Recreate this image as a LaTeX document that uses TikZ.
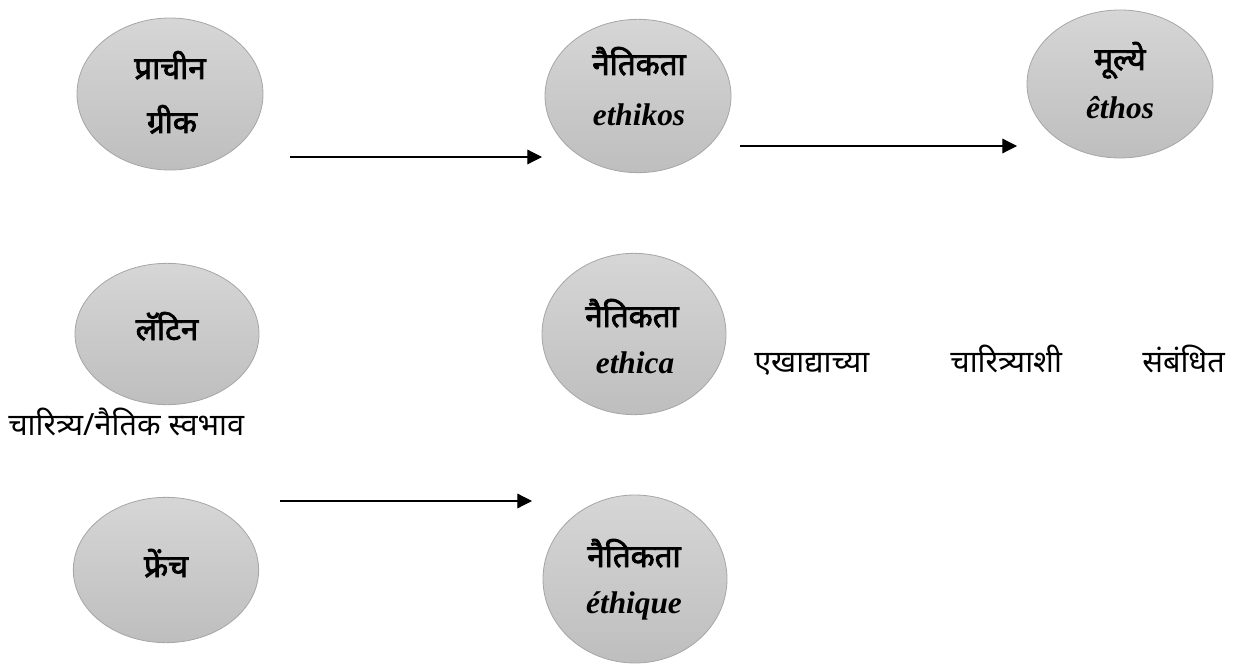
\documentclass[tikz,border=0pt]{standalone}
\usepackage{fontspec}
\setmainfont{Liberation Serif}
\newfontfamily\deva[Script=Devanagari]{Noto Sans}
\newfontfamily\devabold[Script=Devanagari,FakeBold=2.5]{Noto Sans}
\usetikzlibrary{shapes.geometric,arrows.meta}
\definecolor{bubbletop}{HTML}{D6D6D6}
\definecolor{bubblebot}{HTML}{BEBEBE}
\definecolor{bubbleedge}{HTML}{A6A6A6}
\begin{document}
\begin{tikzpicture}[x=0.75pt,y=-0.75pt,
  bubble/.style={ellipse, draw=bubbleedge, line width=0.6pt,
    top color=bubbletop, bottom color=bubblebot, inner sep=0pt},
  devhead/.style={anchor=base, inner sep=0pt, font=\devabold\fontsize{23.5}{27}\selectfont},
  latinword/.style={anchor=base, inner sep=0pt, font=\bfseries\itshape\fontsize{23.5}{27}\selectfont},
  plainword/.style={anchor=base west, inner sep=0pt, font=\deva\fontsize{23}{27}\selectfont},
  flow/.style={line width=0.9pt, -{Triangle[length=11pt,width=11pt]}}]
\useasboundingbox (0,0) rectangle (1245,670);

% ellipses
\node[bubble, minimum width=139.5pt, minimum height=114pt] (greek)  at (170,94)  {};
\node[bubble, minimum width=139.5pt, minimum height=115pt] (ethikos) at (638,96) {};
\node[bubble, minimum width=139.5pt, minimum height=111pt] (ethos)  at (1120,84) {};
\node[bubble, minimum width=138pt,   minimum height=106pt] (latin)  at (167,334) {};
\node[bubble, minimum width=138pt,   minimum height=121pt] (ethica) at (634,334) {};
\node[bubble, minimum width=139pt,   minimum height=109pt] (french) at (166,570) {};
\node[bubble, minimum width=138pt,   minimum height=126pt] (ethique) at (635,579) {};

% labels inside the ellipses
\node[devhead] (greek1) at (170,79)  {प्राचीन};
\node[devhead] (greek2) at (172,133) {ग्रीक};
\node[devhead] (ethikos1) at (639,75) {नैतिकता};
\node[latinword] (ethikos2) at (639,126) {ethikos};
\node[devhead] (ethos1) at (1120,70) {मूल्ये};
\node[latinword] (ethos2) at (1120,119) {êthos};
\node[devhead] (latin1) at (167,340) {लॅटिन};
\node[devhead] (ethica1) at (632,327) {नैतिकता};
\node[latinword] (ethica2) at (635,373) {ethica};
\node[devhead] (french1) at (166,577) {फ्रेंच};
\node[devhead] (ethique1) at (634,567) {नैतिकता};
\node[latinword] (ethique2) at (634,613) {éthique};

% running text
\node[plainword] (w1) at (754,372) {एखाद्याच्या};
\node[plainword] (w2) at (950,372) {चारित्र्याशी};
\node[plainword] (w3) at (1142,372) {संबंधित};
\node[plainword] (w4) at (8,435) {चारित्र्य/नैतिक स्वभाव};

% arrows
\coordinate (a1s) at (290,157); \coordinate (a1e) at (542,157);
\coordinate (a2s) at (740,146); \coordinate (a2e) at (1017,146);
\coordinate (a3s) at (280,501); \coordinate (a3e) at (532,501);
\draw[flow] (a1s) -- (a1e);
\draw[flow] (a2s) -- (a2e);
\draw[flow] (a3s) -- (a3e);
\end{tikzpicture}
\end{document}
